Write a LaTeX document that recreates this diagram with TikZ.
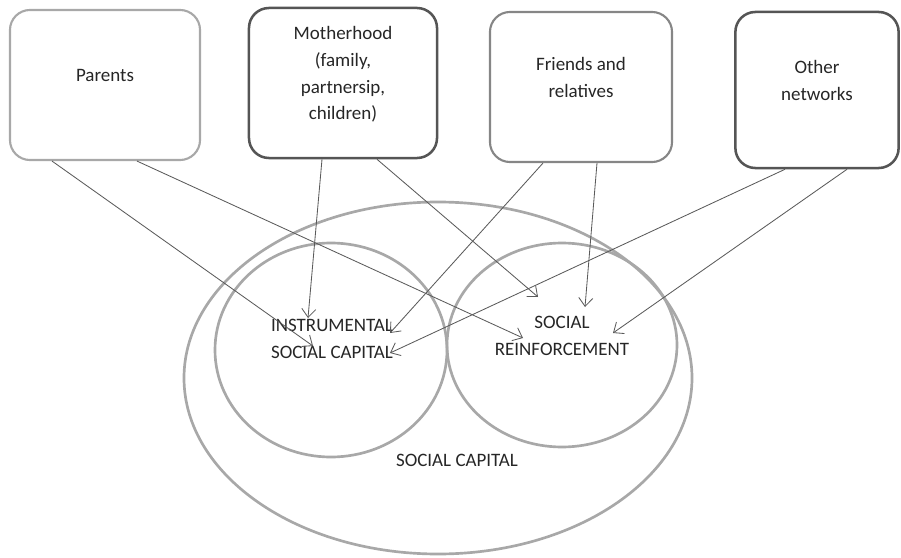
\documentclass[tikz,border=0pt]{standalone}
\usepackage{fontspec}
\setmainfont{Carlito}
\usepackage{tikz}
\usetikzlibrary{arrows.meta, calc, positioning}
\definecolor{lightline}{HTML}{A8A8A8}
\definecolor{darkline}{HTML}{555555}
\definecolor{arrowgray}{HTML}{5A5A5A}
\tikzset{
  netbox/.style={draw=lightline, line width=1.5pt, rounded corners=0.5cm, fill=white,
    align=center, font=\fontsize{13.5}{19}\selectfont, text=black!85, text depth=14pt},
  netboxdark/.style={netbox, draw=darkline, line width=1.8pt},
  capring/.style={draw=lightline, line width=1.9pt},
  captext/.style={align=center, font=\fontsize{13.5}{19}\selectfont, text=black!85},
  tie/.style={draw=arrowgray, line width=0.6pt, -{Straight Barb[length=6pt, width=10pt]}},
}
\begin{document}
\begin{tikzpicture}[x=0.025cm, y=-0.025cm]
\useasboundingbox (0,0) rectangle (901,558);

% the four networks
\node[netbox, minimum width=4.75cm, minimum height=3.75cm] (parents) at (105,85) {Parents};
\node[netboxdark, minimum width=4.7cm, minimum height=3.75cm] (mother) at (343,83)
  {Motherhood\\(family,\\partnersip,\\children)};
\node[netbox, draw=lightline!80!black, minimum width=4.55cm, minimum height=3.75cm] (friends) at (581,87)
  {Friends and\\relatives};
\node[netboxdark, minimum width=4.08cm, minimum height=3.9cm] (other) at (817,90)
  {Other\\networks};

% capital
\draw[capring] (438,378) ellipse [x radius=254, y radius=176];
\draw[capring] (331,350) ellipse [x radius=116, y radius=107];
\draw[capring] (562,345) ellipse [x radius=115, y radius=102];

\node[captext] (instr) at (332,339) {INSTRUMENTAL\\SOCIAL CAPITAL};
\node[captext] (reinf) at (562,336) {SOCIAL\\REINFORCEMENT};
\node[captext] (capital) at (457,460) {SOCIAL CAPITAL};

\coordinate (pa-i) at (313,346);
\coordinate (pa-r) at (523,338);
\coordinate (mo-i) at (308,318);
\coordinate (mo-r) at (538,297);
\coordinate (fr-i) at (390,333);
\coordinate (fr-r) at (585,307);
\coordinate (ot-i) at (390,353);
\coordinate (ot-r) at (613,333);

\draw[tie] ($(parents.south)+(-53,0)$) -- (pa-i);
\draw[tie] ($(parents.south)+(32,0)$) -- (pa-r);
\draw[tie] ($(mother.south)+(-21,0)$) -- (mo-i);
\draw[tie] ($(mother.south)+(34,0)$) -- (mo-r);
\draw[tie] ($(friends.south)+(-38,0)$) -- (fr-i);
\draw[tie] ($(friends.south)+(16,0)$) -- (fr-r);
\draw[tie] ($(other.south)+(-32,0)$) -- (ot-i);
\draw[tie] ($(other.south)+(30,0)$) -- (ot-r);
\end{tikzpicture}
\end{document}
